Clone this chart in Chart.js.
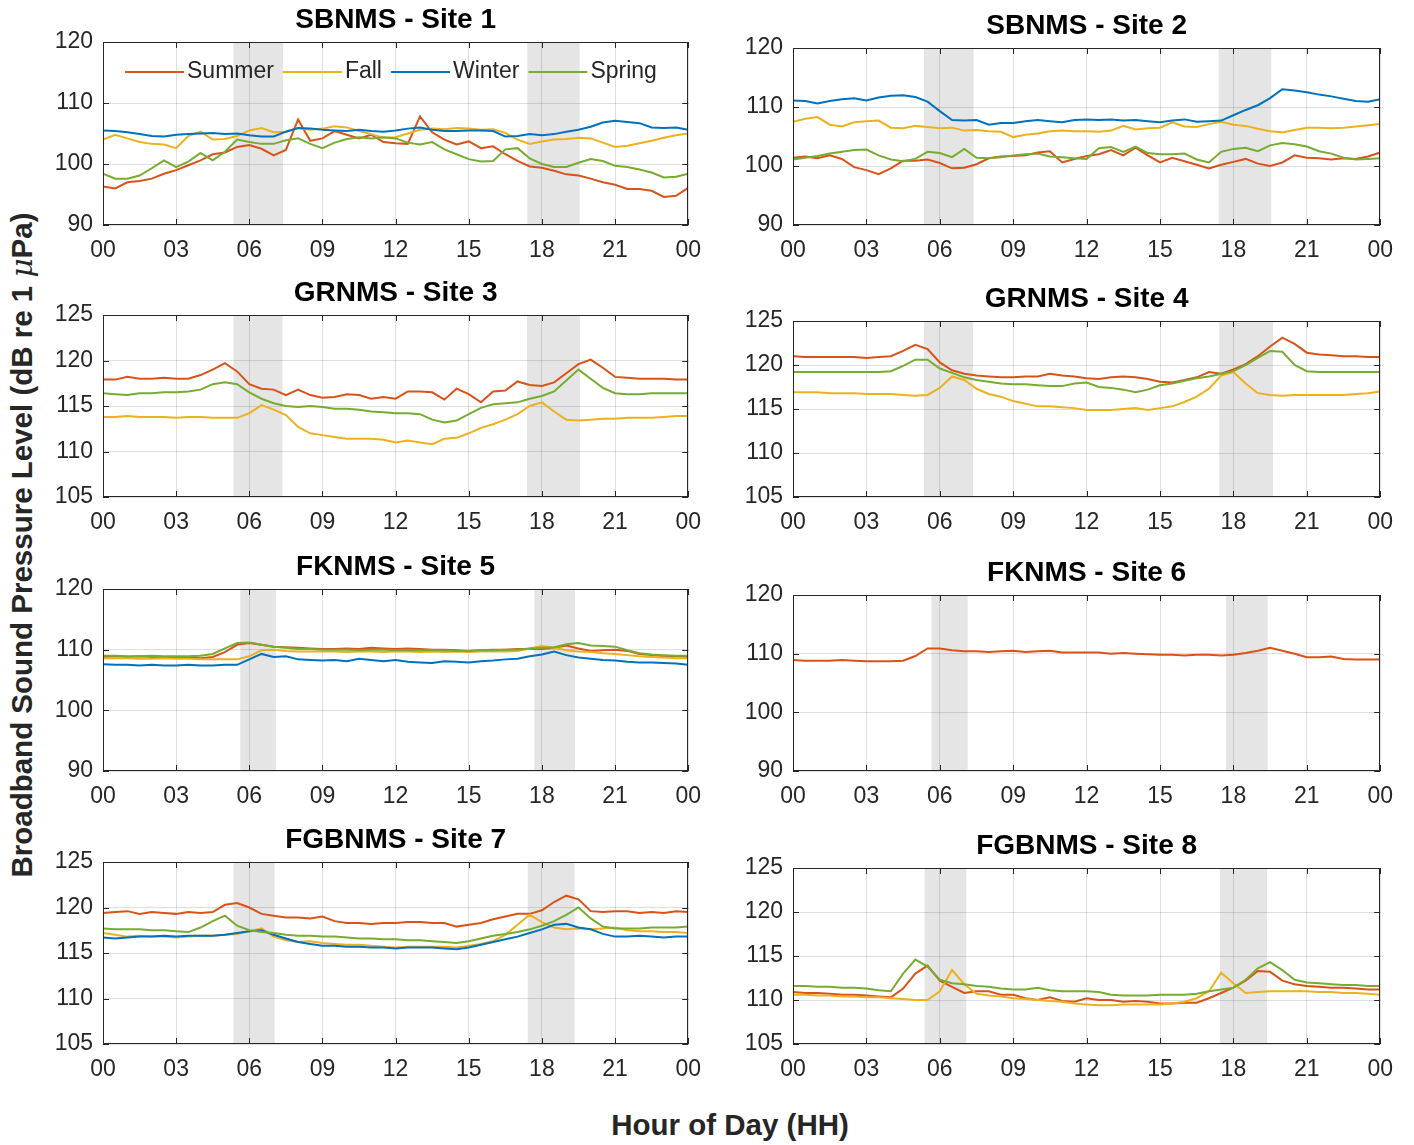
<!DOCTYPE html>
<html>
<head>
<meta charset="utf-8">
<title>Broadband sound pressure level by hour of day</title>
<script src="https://cdn.jsdelivr.net/npm/chart.js@4.4.1/dist/chart.umd.min.js"></script>
<style>
  body { margin: 0; background: #fff; width: 1414px; height: 1145px; position: relative; overflow: hidden;
         font-family: "Liberation Sans", Arial, sans-serif; }
  canvas { position: absolute; }
  .axis-label { position: absolute; white-space: nowrap; font-weight: bold; font-size: 29.5px; color: #262626; }
  #ylab { left: 22px; top: 545px; transform: translate(-50%, -50%) rotate(-90deg); }
  #xlab { left: 730px; top: 1125px; transform: translate(-50%, -50%); }
  #ylab i { font-weight: normal; font-family: "DejaVu Serif", serif; }
</style>
</head>
<body>
<canvas id="p1"></canvas><canvas id="p2"></canvas>
<canvas id="p3"></canvas><canvas id="p4"></canvas>
<canvas id="p5"></canvas><canvas id="p6"></canvas>
<canvas id="p7"></canvas><canvas id="p8"></canvas>
<div class="axis-label" id="ylab">Broadband Sound Pressure Level (dB re 1 <i>μ</i>Pa)</div>
<div class="axis-label" id="xlab">Hour of Day (HH)</div>
<script>
// hour of day, half-hour steps
const hours = [0,0.5,1,1.5,2,2.5,3,3.5,4,4.5,5,5.5,6,6.5,7,7.5,8,8.5,9,9.5,10,10.5,11,11.5,
  12,12.5,13,13.5,14,14.5,15,15.5,16,16.5,17,17.5,18,18.5,19,19.5,20,20.5,21,21.5,22,22.5,23,23.5,24];
const xTickLabels = ['00','03','06','09','12','15','18','21','00'];
const seasons = ['Summer', 'Fall', 'Winter', 'Spring'];

// SBNMS - Site 1
const site1Summer = [96.3,96.0,97.0,97.2,97.6,98.4,99.0,99.8,100.6,101.6,101.9,102.8,103.1,102.5,101.4,102.3,107.3,103.8,104.2,105.4,104.8,104.2,104.8,103.6,
  103.4,103.3,107.8,105.2,104.0,103.2,103.7,102.6,102.9,101.6,100.5,99.6,99.4,98.9,98.3,98.1,97.6,97.0,96.6,95.9,95.9,95.6,94.6,94.8,96.1];
const site1Fall = [104.0,104.8,104.2,103.6,103.3,103.2,102.6,104.6,105.3,104.0,104.1,104.6,105.5,105.9,105.2,105.3,105.9,105.6,105.8,106.2,106.0,105.4,104.9,104.3,
  104.4,105.0,105.6,105.8,105.7,105.9,105.8,105.6,105.7,105.1,104.0,103.3,103.7,104.0,104.1,104.3,104.2,103.5,102.8,103.0,103.4,103.8,104.3,104.7,105.0];
const site1Winter = [105.5,105.4,105.2,104.9,104.6,104.5,104.8,104.9,105.0,105.1,104.9,105.0,104.7,104.5,104.5,105.3,105.9,105.8,105.6,105.5,105.4,105.6,105.4,105.3,
  105.5,105.8,106.0,105.6,105.4,105.4,105.5,105.5,105.4,104.5,104.6,104.9,104.7,104.9,105.3,105.6,106.1,106.8,107.1,106.9,106.7,106.0,105.9,106.0,105.6];
const site1Spring = [98.4,97.6,97.6,98.1,99.3,100.6,99.5,100.4,101.8,100.6,102.0,104.0,103.6,103.3,103.3,103.9,104.2,103.3,102.6,103.5,104.1,104.4,104.2,104.4,
  104.2,103.5,103.2,103.6,102.4,101.6,100.8,100.4,100.5,102.4,102.6,100.9,100.0,99.5,99.5,100.2,100.8,100.5,99.7,99.5,99.1,98.6,97.8,97.9,98.4];

// SBNMS - Site 2
const site2Summer = [101.4,101.6,101.3,101.8,101.2,99.8,99.3,98.6,99.6,100.9,100.9,101.1,100.5,99.6,99.7,100.3,101.3,101.6,101.7,101.8,102.3,102.5,100.6,101.2,
  101.7,102.0,102.7,101.8,103.1,101.8,100.6,101.4,100.8,100.2,99.6,100.2,100.7,101.2,100.4,100.0,100.6,101.8,101.4,101.3,101.1,101.3,101.2,101.6,102.3];
const site2Fall = [107.5,108.0,108.3,107.0,106.7,107.4,107.6,107.7,106.5,106.4,106.8,106.6,106.4,106.5,106.0,106.1,105.9,105.8,104.9,105.3,105.5,105.9,106.0,105.9,
  105.9,105.8,106.0,106.8,106.2,106.4,106.5,107.4,106.7,106.6,107.1,107.5,107.0,106.8,106.3,105.9,105.7,106.1,106.5,106.5,106.4,106.5,106.7,106.9,107.1];
const site2Winter = [111.1,111.0,110.6,111.0,111.3,111.5,111.1,111.6,111.9,112.0,111.7,110.9,109.3,107.8,107.7,107.8,107.0,107.3,107.3,107.6,107.8,107.6,107.4,107.8,
  107.9,107.8,107.9,107.7,107.8,107.6,107.4,107.7,107.9,107.5,107.6,107.7,108.6,109.5,110.3,111.5,113.0,112.8,112.5,112.1,111.8,111.4,111.0,110.9,111.3];
const site2Spring = [101.1,101.4,101.7,102.1,102.4,102.7,102.8,101.8,101.1,100.8,101.2,102.4,102.2,101.5,102.9,101.4,101.3,101.5,101.8,102.0,102.1,101.6,101.5,101.3,
  101.2,103.0,103.2,102.4,103.3,102.2,102.0,102.0,102.1,101.1,100.6,102.4,102.9,103.1,102.5,103.5,103.9,103.7,103.3,102.5,102.1,101.4,101.1,101.2,101.3];

// GRNMS - Site 3
const site3Summer = [117.9,117.9,118.2,118.0,118.0,118.1,118.0,118.0,118.4,119.0,119.7,118.8,117.4,116.9,116.8,116.2,116.8,116.2,115.9,116.0,116.3,116.2,115.8,116.0,
  115.8,116.6,116.6,116.5,115.7,116.9,116.3,115.4,116.6,116.7,117.7,117.3,117.2,117.6,118.6,119.6,120.1,119.2,118.2,118.1,118.0,118.0,118.0,117.9,117.9];
const site3Fall = [113.8,113.8,113.9,113.8,113.8,113.8,113.7,113.8,113.8,113.7,113.7,113.7,114.2,115.1,114.6,114.0,112.7,112.0,111.8,111.6,111.4,111.4,111.4,111.3,
  111.0,111.2,111.0,110.8,111.4,111.5,112.0,112.6,113.0,113.5,114.1,115.0,115.4,114.4,113.5,113.4,113.5,113.6,113.6,113.7,113.7,113.7,113.8,113.9,113.9];
const site3Spring = [116.4,116.3,116.2,116.4,116.4,116.5,116.5,116.6,116.8,117.4,117.6,117.4,116.5,115.8,115.3,115.0,114.9,115.0,114.9,114.7,114.7,114.6,114.4,114.3,
  114.2,114.2,114.1,113.5,113.2,113.4,114.1,114.8,115.2,115.3,115.4,115.8,116.1,116.6,117.8,119.0,118.0,117.0,116.4,116.3,116.3,116.4,116.4,116.4,116.4];

// GRNMS - Site 4
const site4Summer = [121.0,120.9,120.9,120.9,120.9,120.9,120.8,120.9,121.0,121.6,122.3,121.8,120.3,119.4,119.0,118.8,118.7,118.6,118.6,118.7,118.7,119.0,118.8,118.7,
  118.5,118.4,118.6,118.7,118.6,118.4,118.1,118.0,118.3,118.6,119.2,119.0,119.5,120.1,121.0,122.1,123.1,122.4,121.4,121.2,121.1,121.0,121.0,120.9,120.9];
const site4Fall = [116.9,116.9,116.9,116.8,116.8,116.8,116.7,116.7,116.7,116.6,116.5,116.6,117.4,118.7,118.3,117.3,116.7,116.4,115.9,115.6,115.3,115.3,115.2,115.1,
  114.9,114.9,114.9,115.0,115.1,114.9,115.1,115.3,115.8,116.4,117.3,118.8,119.2,117.9,116.8,116.6,116.5,116.6,116.6,116.6,116.6,116.6,116.7,116.8,117.0];
const site4Spring = [119.2,119.2,119.2,119.2,119.2,119.2,119.2,119.2,119.3,119.9,120.6,120.6,119.6,119.1,118.6,118.3,118.1,117.9,117.8,117.8,117.7,117.6,117.6,117.9,
  118.0,117.5,117.4,117.2,116.9,117.2,117.7,117.9,118.2,118.5,118.7,119.0,119.3,120.0,120.8,121.6,121.5,120.0,119.3,119.2,119.2,119.2,119.2,119.2,119.2];

// FKNMS - Site 5
const site5Summer = [108.8,108.9,108.8,108.9,108.8,108.8,108.8,108.7,108.6,108.8,109.6,110.8,111.1,110.8,110.5,110.4,110.3,110.2,110.1,110.1,110.2,110.1,110.3,110.2,
  110.1,110.2,110.1,110.0,110.0,109.9,109.8,109.9,110.0,110.0,110.1,110.1,110.1,110.3,110.7,110.2,109.8,109.9,110.0,109.8,109.3,109.1,108.9,108.9,108.8];
const site5Fall = [108.6,108.6,108.6,108.5,108.5,108.6,108.5,108.5,108.4,108.4,108.4,108.4,108.9,109.9,110.0,109.8,109.7,109.7,109.7,109.7,109.6,109.7,109.7,109.6,
  109.7,109.7,109.6,109.7,109.6,109.7,109.6,109.7,109.7,109.7,109.8,110.2,110.6,110.3,109.9,109.7,109.6,109.4,109.3,109.1,108.9,108.8,108.7,108.6,108.6];
const site5Winter = [107.6,107.5,107.5,107.4,107.5,107.4,107.4,107.5,107.4,107.4,107.5,107.5,108.4,109.3,108.8,108.9,108.4,108.3,108.2,108.3,108.1,108.5,108.3,108.1,
  108.3,108.0,107.9,107.8,108.1,108.0,107.9,108.1,108.2,108.4,108.5,108.9,109.2,109.7,109.1,108.7,108.5,108.3,108.2,108.0,107.9,107.9,107.8,107.7,107.5];
const site5Spring = [109.0,109.0,108.9,108.9,109.0,108.9,108.9,108.9,109.0,109.3,110.2,111.1,111.2,110.8,110.5,110.3,110.1,110.1,110.0,110.0,110.0,109.9,110.0,110.0,
  109.9,109.9,109.9,109.9,109.9,109.8,109.8,109.9,109.9,110.0,110.0,110.2,110.3,110.4,110.9,111.1,110.7,110.6,110.5,109.9,109.4,109.2,109.1,109.0,109.0];

// FKNMS - Site 6
const site6Summer = [108.9,108.8,108.8,108.8,108.9,108.8,108.7,108.7,108.7,108.8,109.6,110.9,110.9,110.6,110.4,110.4,110.3,110.4,110.5,110.3,110.4,110.5,110.2,110.2,
  110.2,110.2,110.0,110.1,110.0,109.9,109.8,109.8,109.7,109.8,109.8,109.7,109.8,110.1,110.5,111.0,110.5,110.0,109.4,109.4,109.5,109.1,109.0,109.0,109.0];

// FGBNMS - Site 7
const site7Summer = [119.4,119.5,119.6,119.3,119.5,119.4,119.3,119.5,119.4,119.5,120.3,120.5,120.0,119.3,119.1,118.9,118.9,118.8,119.0,118.5,118.3,118.3,118.2,118.3,
  118.3,118.4,118.4,118.3,118.3,117.9,118.1,118.3,118.7,119.0,119.3,119.3,119.7,120.6,121.3,120.9,119.6,119.5,119.6,119.6,119.4,119.5,119.4,119.6,119.5];
const site7Fall = [117.2,117.0,116.8,116.9,116.8,116.8,116.7,116.8,116.9,116.9,117.0,117.1,117.4,117.7,116.8,116.4,116.2,116.3,116.1,116.0,115.9,115.9,115.8,115.7,
  115.6,115.7,115.7,115.7,115.7,115.6,115.8,116.0,116.3,117.0,118.1,119.2,118.4,117.8,117.6,117.7,117.6,117.7,117.8,117.5,117.4,117.4,117.3,117.3,117.2];
const site7Winter = [116.7,116.6,116.7,116.8,116.8,116.9,116.8,116.9,116.9,116.9,117.0,117.2,117.4,117.5,117.0,116.6,116.2,116.0,115.8,115.8,115.7,115.7,115.6,115.6,
  115.5,115.6,115.6,115.6,115.5,115.4,115.6,115.9,116.2,116.5,116.8,117.2,117.6,118.1,118.2,117.8,117.6,117.1,116.8,116.8,116.9,116.8,116.7,116.8,116.8];
const site7Spring = [117.7,117.6,117.6,117.6,117.5,117.5,117.4,117.3,117.8,118.5,119.1,118.0,117.5,117.3,117.2,117.0,116.9,116.9,116.8,116.8,116.7,116.6,116.6,116.5,
  116.5,116.4,116.4,116.3,116.2,116.1,116.3,116.6,116.9,117.1,117.3,117.6,118.0,118.5,119.2,120.0,118.8,117.9,117.7,117.7,117.7,117.8,117.8,117.8,117.9];

// FGBNMS - Site 8
const site8Summer = [110.9,110.8,110.8,110.7,110.6,110.6,110.5,110.4,110.3,111.3,113.0,113.9,112.2,111.5,110.8,111.0,111.0,110.6,110.6,110.2,110.0,110.3,109.9,109.8,
  110.2,110.0,110.0,109.8,109.9,109.8,109.6,109.6,109.7,109.7,110.2,110.8,111.4,112.2,113.3,113.2,112.2,111.8,111.6,111.5,111.4,111.4,111.3,111.2,111.2];
const site8Fall = [110.6,110.6,110.5,110.5,110.4,110.4,110.3,110.3,110.2,110.1,110.0,110.0,111.0,113.4,111.8,110.7,110.5,110.4,110.2,110.1,110.0,109.9,109.8,109.6,
  109.5,109.4,109.4,109.5,109.5,109.5,109.5,109.6,109.8,110.2,111.0,113.1,111.9,110.8,110.9,111.0,111.0,111.0,111.0,110.9,110.9,110.8,110.8,110.7,110.6];
const site8Spring = [111.6,111.6,111.5,111.5,111.4,111.4,111.3,111.1,111.0,113.0,114.6,113.8,112.3,111.9,111.8,111.6,111.5,111.3,111.2,111.2,111.4,111.1,111.0,111.0,
  111.0,110.9,110.6,110.5,110.5,110.5,110.6,110.6,110.6,110.7,111.0,111.2,111.4,112.3,113.6,114.3,113.4,112.3,112.0,111.9,111.8,111.7,111.7,111.6,111.6];

// shaded dawn / dusk windows (start hour, end hour)
const site1Bands = [[5.35, 7.38], [17.4, 19.55]];
const site2Bands = [[5.35, 7.38], [17.4, 19.55]];
const site3Bands = [[5.35, 7.36], [17.39, 19.56]];
const site4Bands = [[5.35, 7.36], [17.42, 19.62]];
const site5Bands = [[5.63, 7.09], [17.69, 19.36]];
const site6Bands = [[5.66, 7.14], [17.7, 19.4]];
const site7Bands = [[5.35, 7.04], [17.42, 19.34]];
const site8Bands = [[5.38, 7.08], [17.45, 19.37]];

const seasonColors = { Summer: '#D95319', Fall: '#EDB120', Winter: '#0072BD', Spring: '#77AC30' };
const seasonOrder = { Summer: 3, Fall: 2, Winter: 1, Spring: 0 };

const panels = [
  { id: 'p1', title: 'SBNMS - Site 1', y: [90, 120, 10], bands: site1Bands, legend: true,
    series: { Summer: site1Summer, Fall: site1Fall, Winter: site1Winter, Spring: site1Spring } },
  { id: 'p2', title: 'SBNMS - Site 2', y: [90, 120, 10], bands: site2Bands,
    series: { Summer: site2Summer, Fall: site2Fall, Winter: site2Winter, Spring: site2Spring } },
  { id: 'p3', title: 'GRNMS - Site 3', y: [105, 125, 5], bands: site3Bands,
    series: { Summer: site3Summer, Fall: site3Fall, Spring: site3Spring } },
  { id: 'p4', title: 'GRNMS - Site 4', y: [105, 125, 5], bands: site4Bands,
    series: { Summer: site4Summer, Fall: site4Fall, Spring: site4Spring } },
  { id: 'p5', title: 'FKNMS - Site 5', y: [90, 120, 10], bands: site5Bands,
    series: { Summer: site5Summer, Fall: site5Fall, Winter: site5Winter, Spring: site5Spring } },
  { id: 'p6', title: 'FKNMS - Site 6', y: [90, 120, 10], bands: site6Bands,
    series: { Summer: site6Summer } },
  { id: 'p7', title: 'FGBNMS - Site 7', y: [105, 125, 5], bands: site7Bands,
    series: { Summer: site7Summer, Fall: site7Fall, Winter: site7Winter, Spring: site7Spring } },
  { id: 'p8', title: 'FGBNMS - Site 8', y: [105, 125, 5], bands: site8Bands,
    series: { Summer: site8Summer, Fall: site8Fall, Spring: site8Spring } }
];

// canvas placement on the page
const PAD_TOP = 40, X_AXIS_H = 36, Y_AXIS_W = 63, PAD_RIGHT = 16;
const layoutBoxes = [
  { left: 40, top: 2, width: 673, height: 259 },
  { left: 730, top: 8, width: 675, height: 253 },
  { left: 40, top: 275, width: 673, height: 258 },
  { left: 730, top: 281, width: 675, height: 252 },
  { left: 40, top: 549, width: 673, height: 258 },
  { left: 730, top: 555, width: 675, height: 252 },
  { left: 40, top: 822, width: 673, height: 258 },
  { left: 730, top: 828, width: 675, height: 252 }
];

const FONT = '"Liberation Sans", Arial, sans-serif';
const INK = '#262626';

// shading behind the grid, then box, inward ticks, title and legend on top
const matlabAxes = {
  id: 'matlabAxes',
  beforeDraw(chart, args, opts) {
    const { ctx, chartArea: a, scales: { x } } = chart;
    ctx.save();
    ctx.fillStyle = '#e5e5e5';
    opts.bands.forEach(([s, e]) => {
      const x0 = x.getPixelForValue(s), x1 = x.getPixelForValue(e);
      ctx.fillRect(x0, a.top, x1 - x0, a.bottom - a.top);
    });
    ctx.restore();
  },
  afterDraw(chart, args, opts) {
    const { ctx, chartArea: a, scales: { x, y } } = chart;
    ctx.save();
    ctx.strokeStyle = INK;
    ctx.lineWidth = 1;
    ctx.strokeRect(Math.round(a.left) + 0.5, Math.round(a.top) + 0.5,
      Math.round(a.right - a.left) - 1, Math.round(a.bottom - a.top) - 1);
    ctx.beginPath();
    y.ticks.forEach(t => {
      const py = Math.round(y.getPixelForValue(t.value)) + 0.5;
      ctx.moveTo(a.left, py); ctx.lineTo(a.left + 6, py);
      ctx.moveTo(a.right, py); ctx.lineTo(a.right - 6, py);
    });
    x.ticks.forEach(t => {
      const px = Math.round(x.getPixelForValue(t.value)) + 0.5;
      ctx.moveTo(px, a.bottom); ctx.lineTo(px, a.bottom - 6);
      ctx.moveTo(px, a.top); ctx.lineTo(px, a.top + 6);
    });
    ctx.stroke();

    ctx.fillStyle = '#000';
    ctx.font = 'bold 28px ' + FONT;
    ctx.textAlign = 'center';
    ctx.textBaseline = 'middle';
    ctx.fillText(opts.title, (a.left + a.right) / 2, a.top - 22);

    if (opts.legend) {
      ctx.font = '23px ' + FONT;
      ctx.textAlign = 'left';
      ctx.lineWidth = 2;
      let lx = a.left + 22;
      const ly = a.top + 30;
      chart.data.datasets.forEach(ds => {
        ctx.strokeStyle = ds.borderColor;
        ctx.beginPath();
        ctx.moveTo(lx, ly); ctx.lineTo(lx + 59, ly);
        ctx.stroke();
        lx += 62;
        ctx.fillStyle = INK;
        ctx.fillText(ds.label, lx, ly);
        lx += ctx.measureText(ds.label).width + 9;
      });
    }
    ctx.restore();
  }
};

panels.forEach((p, i) => {
  const box = layoutBoxes[i];
  const canvas = document.getElementById(p.id);
  canvas.width = box.width;
  canvas.height = box.height;
  canvas.style.left = box.left + 'px';
  canvas.style.top = box.top + 'px';

  const datasets = seasons.filter(s => p.series[s]).map(s => ({
    label: s,
    data: hours.map((h, k) => ({ x: h, y: p.series[s][k] })),
    borderColor: seasonColors[s],
    borderWidth: 2,
    pointRadius: 0,
    tension: 0,
    order: seasonOrder[s]
  }));

  new Chart(canvas, {
    type: 'line',
    data: { datasets },
    options: {
      responsive: false,
      animation: false,
      devicePixelRatio: 1,
      layout: { padding: { top: PAD_TOP, right: PAD_RIGHT, bottom: 0, left: 0 } },
      plugins: {
        legend: { display: false },
        tooltip: { enabled: false },
        matlabAxes: { title: p.title, bands: p.bands, legend: !!p.legend }
      },
      scales: {
        x: {
          type: 'linear', min: 0, max: 24,
          afterFit(scale) { scale.height = X_AXIS_H; },
          border: { display: false },
          grid: { color: 'rgba(38,38,38,0.15)', drawTicks: false },
          ticks: {
            stepSize: 3, autoSkip: false, maxRotation: 0, padding: 12,
            color: INK, font: { family: FONT, size: 23 },
            callback: (v, idx) => xTickLabels[idx]
          }
        },
        y: {
          min: p.y[0], max: p.y[1],
          afterFit(scale) { scale.width = Y_AXIS_W; },
          border: { display: false },
          grid: { color: 'rgba(38,38,38,0.15)', drawTicks: false },
          ticks: { stepSize: p.y[2], padding: 10, color: INK, font: { family: FONT, size: 23 } }
        }
      }
    },
    plugins: [matlabAxes]
  });
});
</script>
</body>
</html>
